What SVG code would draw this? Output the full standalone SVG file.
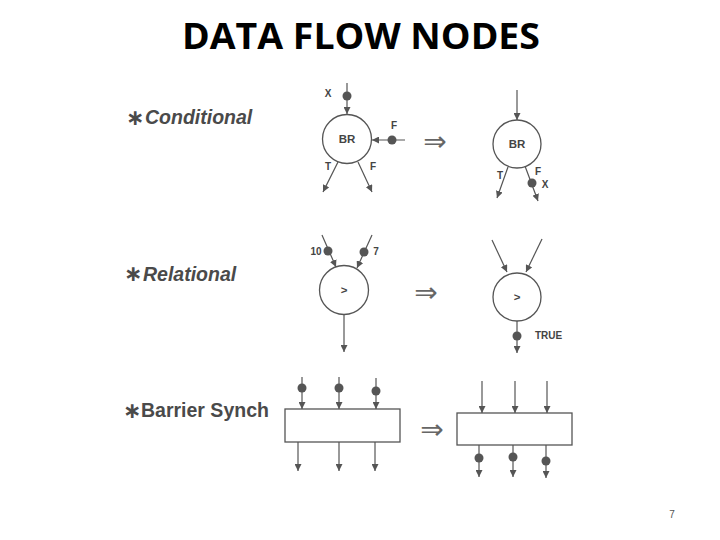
<svg xmlns="http://www.w3.org/2000/svg" width="720" height="540" viewBox="0 0 720 540">
<style>
.title{font-family:"Open Sans","Liberation Sans",sans-serif;font-weight:bold;font-size:36px;fill:#000}
.lbl{font-family:"Liberation Sans",Arial,sans-serif;font-weight:bold;font-size:19.5px;fill:#4a4a4a}
.ast{font-family:"DejaVu Sans",sans-serif;font-weight:bold;font-size:22px;fill:#4a4a4a}
.sm{font-family:"Liberation Sans",Arial,sans-serif;font-weight:bold;font-size:10px;fill:#444}
.nl{font-family:"Liberation Sans",Arial,sans-serif;font-weight:bold;font-size:11.5px;fill:#444}
.node{fill:#fff;stroke:#555;stroke-width:1.3}
.edge{stroke:#555;stroke-width:1.2;fill:none;marker-end:url(#ah)}
.tok{fill:#555}
.imp{font-family:"DejaVu Sans",sans-serif;font-size:28px;fill:#666}
.pg{font-family:"Liberation Sans",Arial,sans-serif;font-size:10px;fill:#555}
</style>
<defs>
<marker id="ah" viewBox="0 0 10 10" refX="10" refY="5" markerWidth="7" markerHeight="7" markerUnits="userSpaceOnUse" orient="auto">
<path d="M0,0 L10,5 L0,10 Z" fill="#555"/>
</marker>
</defs>
<rect width="720" height="540" fill="#fff"/>
<text class="title" x="182" y="49" textLength="358" lengthAdjust="spacingAndGlyphs">DATA FLOW NODES</text>

<g id="label-conditional"><text class="ast" x="126" y="125">∗</text><text class="lbl" x="145" y="124" font-style="italic">Conditional</text></g>
<g id="label-relational"><text class="ast" x="124" y="281">∗</text><text class="lbl" x="143" y="281" font-style="italic">Relational</text></g>
<g id="label-barrier"><text class="ast" x="123" y="418">∗</text><text class="lbl" x="141" y="417">Barrier Synch</text></g>

<g id="cond-left">
<circle class="node" cx="347" cy="139" r="24.5"/>
<text class="nl" x="347" y="143" text-anchor="middle">BR</text>
</g>
<g id="cond-right">
<circle class="node" cx="517" cy="144" r="24"/>
<text class="nl" x="517" y="148" text-anchor="middle">BR</text>
</g>
<g id="rel-left">
<circle class="node" cx="344" cy="290" r="24.5"/>
<text class="nl" x="344" y="294" text-anchor="middle" font-size="13">&gt;</text>
</g>
<g id="rel-right">
<circle class="node" cx="517" cy="297" r="24"/>
<text class="nl" x="517" y="301" text-anchor="middle" font-size="13">&gt;</text>
</g>
<g id="bar-left">
<rect class="node" x="285" y="409" width="115" height="33"/>
</g>
<g id="bar-right">
<rect class="node" x="457" y="413" width="115" height="32"/>
</g>

<g id="connectors">
<line class="edge" x1="347" y1="83" x2="347" y2="114"/>
<line class="edge" x1="405" y1="140" x2="372" y2="140"/>
<line class="edge" x1="338" y1="162" x2="323" y2="192"/>
<line class="edge" x1="358" y1="162" x2="372" y2="192"/>
<line class="edge" x1="517" y1="90" x2="517" y2="120"/>
<line class="edge" x1="508" y1="167" x2="497" y2="198"/>
<line class="edge" x1="525" y1="166" x2="538" y2="201"/>
<line class="edge" x1="322" y1="235" x2="336" y2="267"/>
<line class="edge" x1="372" y1="235" x2="357" y2="268"/>
<line class="edge" x1="344" y1="315" x2="344" y2="352"/>
<line class="edge" x1="492" y1="240" x2="507" y2="272"/>
<line class="edge" x1="542" y1="239" x2="526" y2="272"/>
<line class="edge" x1="517" y1="321" x2="517" y2="353"/>
<line class="edge" x1="302" y1="377" x2="302" y2="409"/>
<line class="edge" x1="339" y1="377" x2="339" y2="409"/>
<line class="edge" x1="376" y1="378" x2="376" y2="409"/>
<line class="edge" x1="298" y1="442" x2="298" y2="471"/>
<line class="edge" x1="339" y1="442" x2="339" y2="471"/>
<line class="edge" x1="375" y1="442" x2="375" y2="471"/>
<line class="edge" x1="482" y1="381" x2="482" y2="413"/>
<line class="edge" x1="515" y1="381" x2="515" y2="413"/>
<line class="edge" x1="547" y1="381" x2="547" y2="413"/>
<line class="edge" x1="479" y1="445" x2="479" y2="477"/>
<line class="edge" x1="513" y1="445" x2="513" y2="477"/>
<line class="edge" x1="546" y1="445" x2="546" y2="478"/>
</g>

<g id="tokens">
<circle class="tok" cx="347" cy="96" r="4.5"/>
<circle class="tok" cx="392" cy="140" r="4.5"/>
<circle class="tok" cx="532" cy="183" r="4.5"/>
<circle class="tok" cx="328" cy="251" r="4.5"/>
<circle class="tok" cx="364" cy="252" r="4.5"/>
<circle class="tok" cx="517" cy="336" r="4.5"/>
<circle class="tok" cx="302" cy="388" r="4.5"/>
<circle class="tok" cx="339" cy="388" r="4.5"/>
<circle class="tok" cx="376" cy="391" r="4.5"/>
<circle class="tok" cx="479" cy="458" r="4.5"/>
<circle class="tok" cx="513" cy="457" r="4.5"/>
<circle class="tok" cx="546" cy="461" r="4.5"/>
</g>

<g id="token-labels">
<text class="sm" x="328" y="97" text-anchor="middle">X</text>
<text class="sm" x="394" y="129" text-anchor="middle">F</text>
<text class="sm" x="328" y="170" text-anchor="middle">T</text>
<text class="sm" x="373" y="170" text-anchor="middle">F</text>
<text class="sm" x="500" y="179" text-anchor="middle">T</text>
<text class="sm" x="538" y="175" text-anchor="middle">F</text>
<text class="sm" x="545" y="188" text-anchor="middle">X</text>
<text class="sm" x="316" y="255" text-anchor="middle">10</text>
<text class="sm" x="376" y="255" text-anchor="middle">7</text>
<text class="sm" x="535" y="339">TRUE</text>
</g>

<g id="implies">
<text class="imp" x="435" y="151" text-anchor="middle">⇒</text>
<text class="imp" x="426" y="302" text-anchor="middle">⇒</text>
<text class="imp" x="432" y="439" text-anchor="middle">⇒</text>
</g>

<text class="pg" x="672" y="518" text-anchor="middle">7</text>
</svg>
